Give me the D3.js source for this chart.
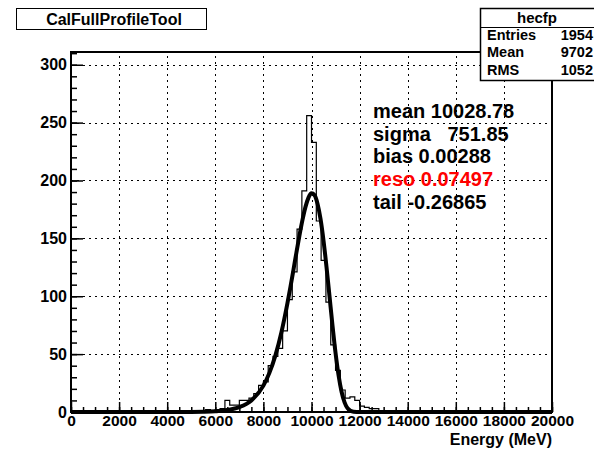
<!DOCTYPE html>
<html>
<head>
<meta charset="utf-8">
<script src="https://cdn.jsdelivr.net/npm/d3@7"></script>
<style>
body { margin: 0; background: #fff; }
text { font-family: "Liberation Sans", Arial, Helvetica, sans-serif; font-weight: bold; }
</style>
</head>
<body>
<svg width="594" height="452"></svg>
<script>
// histogram contents, 100 bins of 200 MeV from 0 to 20000
var binWidth = 200;
var counts = [
  0, 0, 0, 0, 0, 0, 0, 0, 0, 0,
  0, 0, 0, 0, 0, 0, 0, 0, 0, 0,
  0, 0, 1, 0, 1, 1, 0, 1, 2, 1,
  2, 3, 10, 6, 6, 10, 10, 12, 16, 23,
  26, 40, 48, 55, 70, 97, 121, 158, 191, 256,
  233, 165, 131, 95, 58, 36, 19, 12, 13, 10,
  5, 4, 3, 3, 1, 1, 0, 1, 0, 0,
  0, 0, 0, 0, 0, 0, 0, 0, 0, 0,
  0, 0, 0, 0, 0, 0, 0, 0, 0, 0,
  0, 0, 0, 0, 0, 0, 0, 0, 0, 0
];

// fit curve
var fitE = [0, 3000, 4000, 5000, 5500, 6000, 6500, 7000, 7500, 8000, 8250, 8500, 8750,
  9000, 9125, 9250, 9375, 9500, 9625, 9750, 9875, 10000, 10125, 10250, 10375, 10500,
  10625, 10750, 10875, 11000, 11125, 11250, 11375, 11500, 11750, 12000, 20000];
var fitVal = [0, 0, 0.02, 0.1, 0.27, 0.68, 1.7, 4.2, 10, 22.8, 33.8, 48.9, 68.9,
  94, 108, 122.9, 138, 152.6, 166, 177.2, 185.2, 188.9, 187.4, 180, 166.8, 148,
  125.1, 99.8, 74.3, 50.9, 31.7, 17.5, 8.3, 3.3, 0.24, 0, 0];

var xTicks = [0, 2000, 4000, 6000, 8000, 10000, 12000, 14000, 16000, 18000, 20000];
var yTicks = [0, 50, 100, 150, 200, 250, 300];

var statNames = ["Entries", "Mean", "RMS"];
var statValues = ["1954", "9702", "1052"];
var fitLines = ["mean 10028.78", "sigma   751.85", "bias 0.00288", "reso 0.07497", "tail -0.26865"];
var fitColors = ["#000", "#000", "#000", "#ff0000", "#000"];

var svg = d3.select("svg");

var x = d3.scaleLinear().domain([0, 20000]).range([71, 552]);
var y = d3.scaleLinear().domain([0, 311]).range([412, 52]);

// grid
var grid = svg.append("g").attr("stroke", "#000").attr("stroke-width", 1)
    .attr("stroke-dasharray", "2,4").attr("shape-rendering", "crispEdges");
grid.selectAll(".gx").data(xTicks.slice(1, -1)).enter().append("line")
    .attr("x1", d => Math.round(x(d)) + 0.5).attr("x2", d => Math.round(x(d)) + 0.5)
    .attr("y1", y.range()[0]).attr("y2", y.range()[1]);
grid.selectAll(".gy").data(yTicks.slice(1)).enter().append("line")
    .attr("y1", d => Math.round(y(d)) + 0.5).attr("y2", d => Math.round(y(d)) + 0.5)
    .attr("x1", x.range()[0]).attr("x2", x.range()[1]);

// histogram outline
var steps = [[0, 0]];
counts.forEach(function (c, i) {
    steps.push([i * binWidth, c]);
    steps.push([(i + 1) * binWidth, c]);
});
steps.push([counts.length * binWidth, 0]);
svg.append("path")
    .datum(steps)
    .attr("fill", "none")
    .attr("stroke", "#000")
    .attr("stroke-width", 1.2)
    .attr("d", d3.line().x(d => x(d[0])).y(d => y(d[1])));

// fit
svg.append("path")
    .datum(fitE.map((e, i) => [e, fitVal[i]]))
    .attr("fill", "none")
    .attr("stroke", "#000")
    .attr("stroke-width", 4)
    .attr("stroke-linejoin", "round")
    .attr("d", d3.line().x(d => x(d[0])).y(d => y(d[1])).curve(d3.curveMonotoneX));

// axes
var xMajor = svg.append("g").attr("transform", "translate(0,412)")
    .call(d3.axisBottom(x).tickValues(xTicks).tickSize(-10).tickPadding(3).tickFormat(d3.format("d")));
var xMinor = svg.append("g").attr("transform", "translate(0,412)")
    .call(d3.axisBottom(x).tickValues(d3.range(0, 20001, 500)).tickSize(-5).tickFormat(""));
var yMajor = svg.append("g").attr("transform", "translate(71,0)")
    .call(d3.axisLeft(y).tickValues(yTicks).tickSize(-12).tickPadding(4));
var yMinor = svg.append("g").attr("transform", "translate(71,0)")
    .call(d3.axisLeft(y).tickValues(d3.range(0, 311, 10)).tickSize(-6).tickFormat(""));
[xMajor, xMinor, yMajor, yMinor].forEach(function (g) {
    g.select(".domain").remove();
    g.selectAll("line").attr("stroke-width", 1.5);
    g.selectAll("text").attr("font-size", 16).attr("font-family", null).attr("fill", "#000");
});
xMajor.selectAll("text").attr("font-size", 15.5);

// frame
svg.append("rect")
    .attr("x", 71).attr("y", 52).attr("width", 481).attr("height", 360)
    .attr("fill", "none").attr("stroke", "#000").attr("stroke-width", 2);

svg.append("text")
    .attr("x", 552).attr("y", 445).attr("text-anchor", "end").attr("font-size", 16)
    .text("Energy (MeV)");

// title box
svg.append("rect").attr("x", 16.5).attr("y", 8.5).attr("width", 190).attr("height", 21)
    .attr("fill", "#fff").attr("stroke", "#000");
svg.append("text").attr("x", 114).attr("y", 25).attr("text-anchor", "middle").attr("font-size", 16)
    .text("CalFullProfileTool");

// stats box
var stats = svg.append("g");
stats.append("rect").attr("x", 480.5).attr("y", 8.5).attr("width", 130).attr("height", 72)
    .attr("fill", "#fff").attr("stroke", "#000").attr("stroke-width", 1.5);
stats.append("line").attr("x1", 480).attr("x2", 594).attr("y1", 27.5).attr("y2", 27.5).attr("stroke", "#000");
stats.append("text").attr("x", 537).attr("y", 23).attr("text-anchor", "middle").attr("font-size", 15).text("hecfp");
stats.selectAll(".sn").data(statNames).enter().append("text")
    .attr("x", 487).attr("y", (d, i) => 40 + i * 17.3).attr("font-size", 14.5).text(d => d);
stats.selectAll(".sv").data(statValues).enter().append("text")
    .attr("x", 593).attr("y", (d, i) => 40 + i * 17.3).attr("text-anchor", "end").attr("font-size", 14.5).text(d => d);

// fit results
svg.selectAll(".fit").data(fitLines).enter().append("text")
    .attr("x", 373).attr("y", (d, i) => 118 + i * 22.7)
    .attr("font-size", 20).attr("fill", (d, i) => fitColors[i])
    .style("white-space", "pre")
    .text(d => d);
</script>
</body>
</html>
